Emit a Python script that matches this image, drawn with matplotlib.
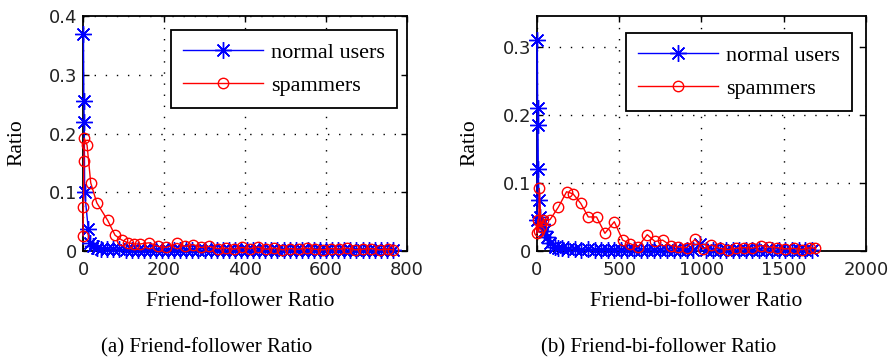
import matplotlib
matplotlib.use("Agg")
import matplotlib.pyplot as plt

# ── Data ──────────────────────────────────────────────────────────────────────

# (a) Friend-follower ratio
ff_x_normal = [1, 2, 3, 4, 13, 17, 25, 35, 45, 60, 75, 90, 105, 120, 135, 150,
               165, 180, 195, 210, 225, 240, 255, 270, 285, 300, 315, 330, 345,
               360, 375, 390, 405, 420, 435, 450, 465, 480, 495, 510, 525, 540,
               555, 570, 585, 600, 615, 630, 645, 660, 675, 690, 705, 720, 735,
               750, 765]
ff_y_normal = [0.370, 0.255, 0.220, 0.100, 0.037, 0.013, 0.008, 0.005, 0.004,
               0.004, 0.003, 0.003, 0.002, 0.002, 0.002, 0.002, 0.002, 0.001,
               0.002, 0.001, 0.001, 0.001, 0.001, 0.001, 0.001, 0.001, 0.001,
               0.001, 0.001, 0.001, 0.001, 0.001, 0.001, 0.001, 0.001, 0.001,
               0.001, 0.001, 0.001, 0.001, 0.001, 0.001, 0.001, 0.001, 0.001,
               0.001, 0.001, 0.001, 0.001, 0.001, 0.001, 0.001, 0.001, 0.001,
               0.001, 0.001, 0.001]

ff_x_spam = [0, 1, 2, 3, 10, 19, 34, 61, 79, 95, 111, 126, 141, 163, 185, 205,
             232, 252, 272, 292, 312, 332, 352, 372, 392, 412, 432, 452, 472,
             492, 512, 532, 552, 572, 592, 612, 632, 652, 672, 692, 712, 732,
             752, 765]
ff_y_spam = [0.026, 0.075, 0.154, 0.192, 0.180, 0.116, 0.082, 0.052, 0.027,
             0.019, 0.014, 0.012, 0.012, 0.014, 0.008, 0.006, 0.013, 0.008,
             0.011, 0.006, 0.008, 0.004, 0.005, 0.003, 0.006, 0.004, 0.007,
             0.003, 0.005, 0.002, 0.004, 0.003, 0.005, 0.003, 0.002, 0.004,
             0.003, 0.005, 0.002, 0.003, 0.004, 0.002, 0.003, 0.002]

# (b) Friend-bi-follower ratio
fb_x_normal = [0, 2, 4, 6, 8, 12, 20, 30, 45, 60, 80, 110, 130, 150, 190, 230,
               270, 310, 350, 390, 430, 470, 510, 550, 590, 630, 670, 710, 750,
               790, 830, 870, 910, 950, 990, 1030, 1070, 1110, 1150, 1190, 1230,
               1270, 1310, 1350, 1390, 1430, 1470, 1510, 1550, 1590, 1630, 1670]
fb_y_normal = [0.045, 0.310, 0.210, 0.185, 0.120, 0.075, 0.050, 0.040, 0.030,
               0.020, 0.012, 0.006, 0.005, 0.004, 0.003, 0.003, 0.002, 0.003,
               0.002, 0.002, 0.002, 0.002, 0.001, 0.002, 0.001, 0.001, 0.002,
               0.001, 0.001, 0.001, 0.001, 0.001, 0.002, 0.001, 0.010, 0.001,
               0.001, 0.001, 0.001, 0.001, 0.001, 0.001, 0.001, 0.001, 0.001,
               0.001, 0.001, 0.001, 0.001, 0.001, 0.001, 0.001]

fb_x_spam = [0, 5, 10, 14, 25, 37, 79, 129, 180, 219, 266, 312, 362, 413, 470,
             521, 565, 614, 670, 717, 764, 812, 860, 910, 960, 1010, 1060, 1110,
             1160, 1210, 1260, 1310, 1360, 1410, 1460, 1510, 1560, 1610, 1660,
             1690]
fb_y_spam = [0.026, 0.046, 0.030, 0.092, 0.035, 0.046, 0.046, 0.064, 0.087,
             0.084, 0.070, 0.050, 0.050, 0.026, 0.043, 0.016, 0.011, 0.006,
             0.024, 0.014, 0.016, 0.008, 0.006, 0.005, 0.017, 0.003, 0.009,
             0.004, 0.002, 0.004, 0.005, 0.004, 0.008, 0.006, 0.005, 0.003,
             0.004, 0.002, 0.005, 0.004]

panels = [
    dict(xn=ff_x_normal, yn=ff_y_normal, xs=ff_x_spam, ys=ff_y_spam,
         xlim=(0, 800), xticks=[0, 200, 400, 600, 800],
         ylim=(0, 0.4), yticks=[0, 0.1, 0.2, 0.3, 0.4],
         yticklabels=["0", "0.1", "0.2", "0.3", "0.4"],
         xlabel="Friend-follower Ratio",
         caption="(a) Friend-follower Ratio",
         rect=[0.0935, 0.3066, 0.3649, 0.649], leg=(0.969, 0.94), cap_x=0.233),
    dict(xn=fb_x_normal, yn=fb_y_normal, xs=fb_x_spam, ys=fb_y_spam,
         xlim=(0, 2000), xticks=[0, 500, 1000, 1500, 2000],
         ylim=(0, 0.345), yticks=[0, 0.1, 0.2, 0.3],
         yticklabels=["0", "0.1", "0.2", "0.3"],
         xlabel="Friend-bi-follower Ratio",
         caption="(b) Friend-bi-follower Ratio",
         rect=[0.6047, 0.3066, 0.3705, 0.649], leg=(0.957, 0.928), cap_x=0.742),
]

SERIF = "Liberation Serif"
TICKFONT = "DejaVu Sans"
asterisk = (8, 2, 0)

fig = plt.figure(figsize=(8.88, 3.62), dpi=100)

for p in panels:
    ax = fig.add_axes(p["rect"])
    # markers near y=0 spill below the axis line, as in the original
    ax.plot(p["xn"], p["yn"], color="blue", lw=1.0, marker=asterisk,
            markersize=12, markeredgewidth=1.0, label="normal users",
            zorder=3, clip_on=False)
    ax.plot(p["xs"], p["ys"], color="red", lw=1.0, marker="o",
            markersize=7.5, markerfacecolor="none", markeredgewidth=1.0,
            label="spammers", zorder=3, clip_on=False)

    ax.set_xlim(*p["xlim"])
    ax.set_ylim(*p["ylim"])
    ax.set_xticks(p["xticks"])
    ax.set_yticks(p["yticks"])
    ax.set_yticklabels(p["yticklabels"])
    ax.tick_params(direction="in", length=4, width=1, top=True, right=True,
                   labelsize=13, pad=4)
    ax.tick_params(axis="x", pad=7)
    for lbl in ax.get_xticklabels() + ax.get_yticklabels():
        lbl.set_fontfamily(TICKFONT)
        lbl.set_color("#222222")
    for s in ax.spines.values():
        s.set_linewidth(1.3)

    ax.grid(True, color="black", linestyle=(0, (1, 7)), linewidth=1.0)
    ax.set_axisbelow(True)

    ax.set_xlabel(p["xlabel"], fontfamily=SERIF, fontsize=15.5)
    ax.set_ylabel("Ratio", fontfamily=SERIF, fontsize=15.5)
    ax.xaxis.set_label_coords(0.484, -0.217)
    ax.xaxis.label.set_va("center")
    ax.yaxis.set_label_coords(-0.204, 0.46)
    ax.yaxis.label.set_va("center")

    leg = ax.legend(loc="upper right", bbox_to_anchor=p["leg"],
                    borderaxespad=0, fancybox=False, framealpha=1,
                    edgecolor="black", handlelength=3.6, handletextpad=0.35,
                    labelspacing=0.55, borderpad=0.55,
                    prop={"family": SERIF, "size": 16})
    leg.get_frame().set_linewidth(1.3)
    leg.set_zorder(5)

    fig.text(p["cap_x"], 1 - 348 / 362, p["caption"], ha="center", va="center",
             fontfamily=SERIF, fontsize=15)

fig.savefig("out.png", dpi=100)
